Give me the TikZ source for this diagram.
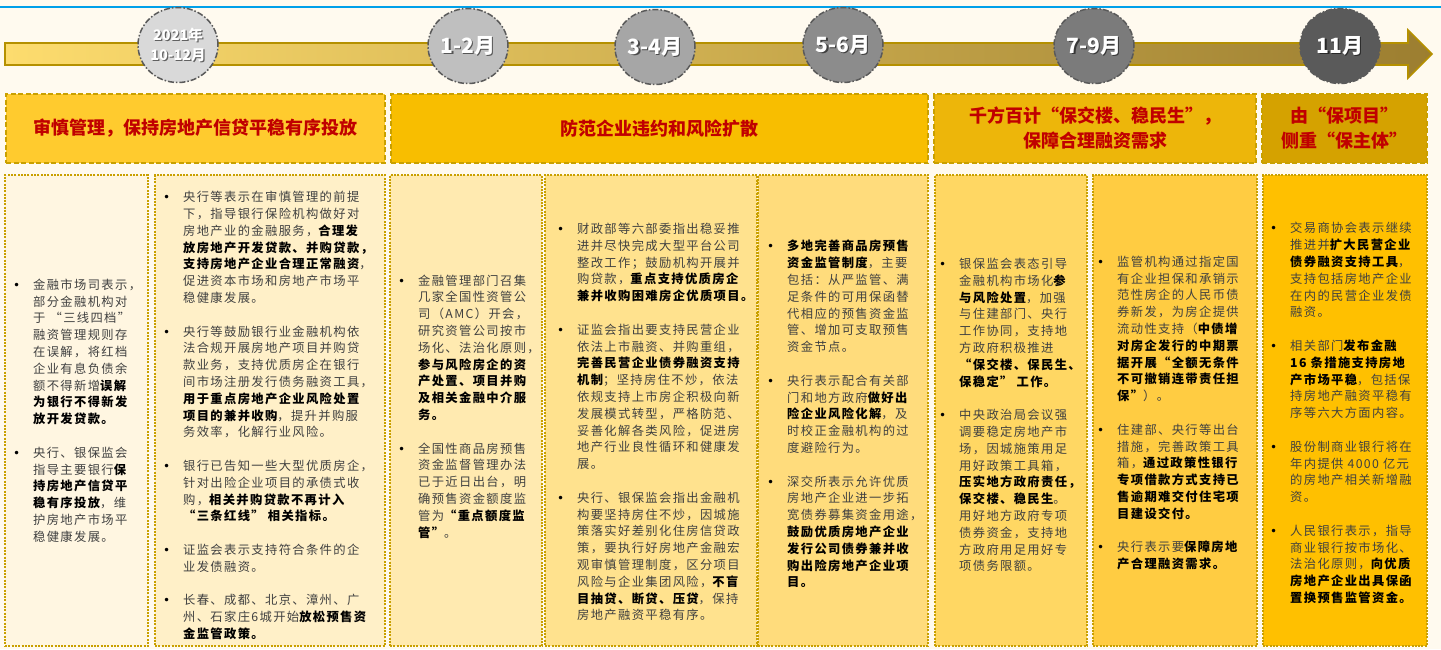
\documentclass[tikz,border=0pt]{standalone}
\usepackage{fontspec}
\usetikzlibrary{shapes.geometric}
\newfontfamily\cjk{Noto Sans CJK SC}[LetterSpace=11]
\newfontfamily\cjkh{Noto Sans CJK SC}
\newfontfamily\dv{DejaVu Sans}
\definecolor{bg}{HTML}{FFFAEF}
\definecolor{blueline}{HTML}{00A0E9}
\definecolor{gold}{HTML}{C9A000}
\definecolor{barL}{HTML}{FDDC6E}
\definecolor{barR}{HTML}{9C7E30}
\definecolor{hred}{HTML}{C00000}
\definecolor{txtgray}{HTML}{404040}
\definecolor{h1}{HTML}{FFCB2E}
\definecolor{h2}{HTML}{F8BE00}
\definecolor{h3}{HTML}{EDB60A}
\definecolor{h4}{HTML}{D5A200}
\definecolor{c1}{HTML}{FFF6E1}
\definecolor{c2}{HTML}{FFF0C8}
\definecolor{c3}{HTML}{FFEAB0}
\definecolor{c4}{HTML}{FFE28E}
\definecolor{c5}{HTML}{FFDC7C}
\definecolor{c6}{HTML}{FFD763}
\definecolor{c7}{HTML}{FFCC42}
\definecolor{c8}{HTML}{FFC000}
\definecolor{e1}{HTML}{D9D9D9}
\definecolor{e2}{HTML}{BFBFBF}
\definecolor{e3}{HTML}{A6A6A6}
\definecolor{e4}{HTML}{8C8C8C}
\definecolor{e5}{HTML}{7B7B7B}
\definecolor{e6}{HTML}{5A5A5A}
\newcommand\B[1]{{\bfseries\color{black}#1}}
\newcommand\bu{\llap{{\dv\fontsize{12}{12}\selectfont\color{black}•}\hspace{13pt}}}
\tikzset{
  hbox/.style={draw=gold, line width=2pt, dash pattern=on 5pt off 2.5pt, inner sep=0, minimum height=69,
    text=hred, align=center, font=\cjkh\bfseries\fontsize{18}{25}\selectfont},
  cbox/.style={draw=gold, line width=2pt, dash pattern=on 2pt off 1.3pt, inner sep=0, minimum height=471},
  txt/.style={anchor=west, align=left, inner sep=0, text=txtgray, font=\cjk\fontsize{12.3}{16.8}\selectfont},
  ell/.style={ellipse, draw=e6, line width=1.5pt, dash pattern=on 6pt off 2pt on 1.5pt off 2pt,
    minimum width=80, minimum height=75, inner sep=0},
  etext/.style={text=white, align=center, inner sep=0, font=\cjkh\bfseries\fontsize{21}{21}\selectfont},
  eshadow/.style={text=black, opacity=0.55, align=center, inner sep=0, font=\cjkh\bfseries\fontsize{21}{21}\selectfont},
}
\begin{document}
\begin{tikzpicture}[x=1pt,y=-1pt]
\useasboundingbox (0,0) rectangle (1441,649);
\fill[bg] (0,0) rectangle (1441,649);
\draw[blueline, line width=2.5pt] (0,7) -- (1441,7);
% timeline arrow
\draw[draw=gold!90!black, line width=1.6pt, left color=barL, right color=barR]
  (5,43) -- (1408,43) -- (1408,30) -- (1432,54) -- (1408,78) -- (1408,65) -- (5,65) -- cycle;
% ellipses
\node[ell, fill=e1] (p1) at (178,45) {};
\node[ell, fill=e2] (p2) at (468,46) {};
\node[ell, fill=e3] (p3) at (655,47) {};
\node[ell, fill=e4] (p4) at (843,45) {};
\node[ell, fill=e5] (p5) at (1094,46) {};
\node[ell, fill=e6] (p6) at (1340,46) {};
\node[eshadow, font=\cjkh\bfseries\fontsize{14.5}{20}\selectfont] (s1) at ([shift={(1.2,1.2)}]p1.center) {2021年\\10-12月};
\node[etext, font=\cjkh\bfseries\fontsize{14.5}{20}\selectfont] (q1) at (p1.center) {2021年\\10-12月};
\node[eshadow] (s2) at ([shift={(1.4,1.4)}]p2.center) {1-2月};
\node[etext] (q2) at (p2.center) {1-2月};
\node[eshadow] (s3) at ([shift={(1.4,1.4)}]p3.center) {3-4月};
\node[etext] (q3) at (p3.center) {3-4月};
\node[eshadow] (s4) at ([shift={(1.4,1.4)}]p4.center) {5-6月};
\node[etext] (q4) at (p4.center) {5-6月};
\node[eshadow] (s5) at ([shift={(1.4,1.4)}]p5.center) {7-9月};
\node[etext] (q5) at (p5.center) {7-9月};
\node[eshadow] (s6) at ([shift={(1.4,1.4)}]p6.center) {11月};
\node[etext] (q6) at (p6.center) {11月};
% header boxes
\node[hbox, fill=h1, minimum width=379] (hb1) at (195.5,128.5) {审慎管理，保持房地产信贷平稳有序投放};
\node[hbox, fill=h2, minimum width=537] (hb2) at (659.5,128.5) {防范企业违约和风险扩散};
\node[hbox, fill=h3, minimum width=322] (hb3) at (1095,128.5) {千方百计“保交楼、稳民生”，\\保障合理融资需求};
\node[hbox, fill=h4, minimum width=165] (hb4) at (1344.5,128.5) {由“保项目”\\侧重“保主体”};
% content boxes
\node[cbox, fill=c1, minimum width=143] (b1) at (76.5,410.5) {};
\node[cbox, fill=c2, minimum width=230] (b2) at (270,410.5) {};
\node[cbox, fill=c3, minimum width=152] (b3) at (466,410.5) {};
\node[cbox, fill=c4, minimum width=212] (b4) at (651,410.5) {};
\node[cbox, fill=c5, minimum width=170] (b5) at (843,410.5) {};
\node[cbox, fill=c6, minimum width=152] (b6) at (1011,410.5) {};
\node[cbox, fill=c7, minimum width=164] (b7) at (1175,410.5) {};
\node[cbox, fill=c8, minimum width=164] (b8) at (1345,410.5) {};
% texts
\node[txt] (t1) at (33,410.5) {\bu 金融市场司表示，\\部分金融机构对\\于 “三线四档”\\融资管理规则存\\在误解，将红档\\企业有息负债余\\额不得新增\B{误解}\\\B{为银行不得新发}\\\B{放开发贷款。}\\[16.8pt]
\bu 央行、银保监会\\指导主要银行\B{保}\\\B{持房地产信贷平}\\\B{稳有序投放}，维\\护房地产市场平\\稳健康发展。};
\node[txt] (t2) at (183,415.5) {\bu 央行等表示在审慎管理的前提\\下，指导银行保险机构做好对\\房地产业的金融服务，\B{合理发}\\\B{放房地产开发贷款、并购贷款，}\\\B{支持房地产企业合理正常融资}，\\促进资本市场和房地产市场平\\稳健康发展。\\[16.8pt]
\bu 央行等鼓励银行业金融机构依\\法合规开展房地产项目并购贷\\款业务，支持优质房企在银行\\间市场注册发行债务融资工具，\\\B{用于重点房地产企业风险处置}\\\B{项目的兼并收购}，提升并购服\\务效率，化解行业风险。\\[16.8pt]
\bu 银行已告知一些大型优质房企，\\针对出险企业项目的承债式收\\购，\B{相关并购贷款不再计入}\\\B{ “三条红线” 相关指标。}\\[16.8pt]
\bu 证监会表示支持符合条件的企\\业发债融资。\\[16.8pt]
\bu 长春、成都、北京、漳州、广\\州、石家庄6城开始\B{放松预售资}\\\B{金监管政策。}};
\node[txt] (t3) at (418,406.5) {\bu 金融管理部门召集\\几家全国性资管公\\司（AMC）开会，\\研究资管公司按市\\场化、法治化原则，\\\B{参与风险房企的资}\\\B{产处置、项目并购}\\\B{及相关金融中介服}\\\B{务。}\\[16.8pt]
\bu 全国性商品房预售\\资金监督管理办法\\已于近日出台，明\\确预售资金额度监\\管为\B{“重点额度监}\\\B{管”}。};
\node[txt] (t4) at (577,422) {\bu 财政部等六部委指出稳妥推\\进并尽快完成大型平台公司\\整改工作；鼓励机构开展并\\购贷款，\B{重点支持优质房企}\\\B{兼并收购困难房企优质项目。}\\[16.8pt]
\bu 证监会指出要支持民营企业\\依法上市融资、并购重组，\\\B{完善民营企业债券融资支持}\\\B{机制}；坚持房住不炒，依法\\依规支持上市房企积极向新\\发展模式转型，严格防范、\\妥善化解各类风险，促进房\\地产行业良性循环和健康发\\展。\\[16.8pt]
\bu 央行、银保监会指出金融机\\构要坚持房住不炒，因城施\\策落实好差别化住房信贷政\\策，要执行好房地产金融宏\\观审慎管理制度，区分项目\\风险与企业集团风险，\B{不盲}\\\B{目抽贷、断贷、压贷}，保持\\房地产融资平稳有序。};
\node[txt] (t5) at (787,414) {\bu \B{多地完善商品房预售}\\\B{资金监管制度}，主要\\包括：从严监管、满\\足条件的可用保函替\\代相应的预售资金监\\管、增加可支取预售\\资金节点。\\[16.8pt]
\bu 央行表示配合有关部\\门和地方政府\B{做好出}\\\B{险企业风险化解}，及\\时校正金融机构的过\\度避险行为。\\[16.8pt]
\bu 深交所表示允许优质\\房地产企业进一步拓\\宽债券募集资金用途，\\\B{鼓励优质房地产企业}\\\B{发行公司债券兼并收}\\\B{购出险房地产企业项}\\\B{目。}};
\node[txt] (t6) at (959,415) {\bu 银保监会表态引导\\金融机构市场化\B{参}\\\B{与风险处置}，加强\\与住建部门、央行\\工作协同，支持地\\方政府积极推进\\\B{ “保交楼、保民生、}\\\B{保稳定” 工作。}\\[16.8pt]
\bu 中央政治局会议强\\调要稳定房地产市\\场，因城施策用足\\用好政策工具箱，\\\B{压实地方政府责任，}\\\B{保交楼、稳民生}。\\用好地方政府专项\\债券资金，支持地\\方政府用足用好专\\项债务限额。};
\node[txt] (t7) at (1117,413) {\bu 监管机构通过指定国\\有企业担保和承销示\\范性房企的人民币债\\券新发，为房企提供\\流动性支持（\B{中债增}\\\B{对房企发行的中期票}\\\B{据开展“全额无条件}\\\B{不可撤销连带责任担}\\\B{保”}）。\\[16.8pt]
\bu 住建部、央行等出台\\措施，完善政策工具\\箱，\B{通过政策性银行}\\\B{专项借款方式支持已}\\\B{售逾期难交付住宅项}\\\B{目建设交付。}\\[16.8pt]
\bu 央行表示要\B{保障房地}\\\B{产合理融资需求。}};
\node[txt] (t8) at (1290,413) {\bu 交易商协会表示继续\\推进并\B{扩大民营企业}\\\B{债券融资支持工具}，\\支持包括房地产企业\\在内的民营企业发债\\融资。\\[16.8pt]
\bu 相关部门\B{发布金融}\\\B{16 条措施支持房地}\\\B{产市场平稳}，包括保\\持房地产融资平稳有\\序等六大方面内容。\\[16.8pt]
\bu 股份制商业银行将在\\年内提供 4000 亿元\\的房地产相关新增融\\资。\\[16.8pt]
\bu 人民银行表示，指导\\商业银行按市场化、\\法治化原则，\B{向优质}\\\B{房地产企业出具保函}\\\B{置换预售监管资金。}};
\end{tikzpicture}
\end{document}
